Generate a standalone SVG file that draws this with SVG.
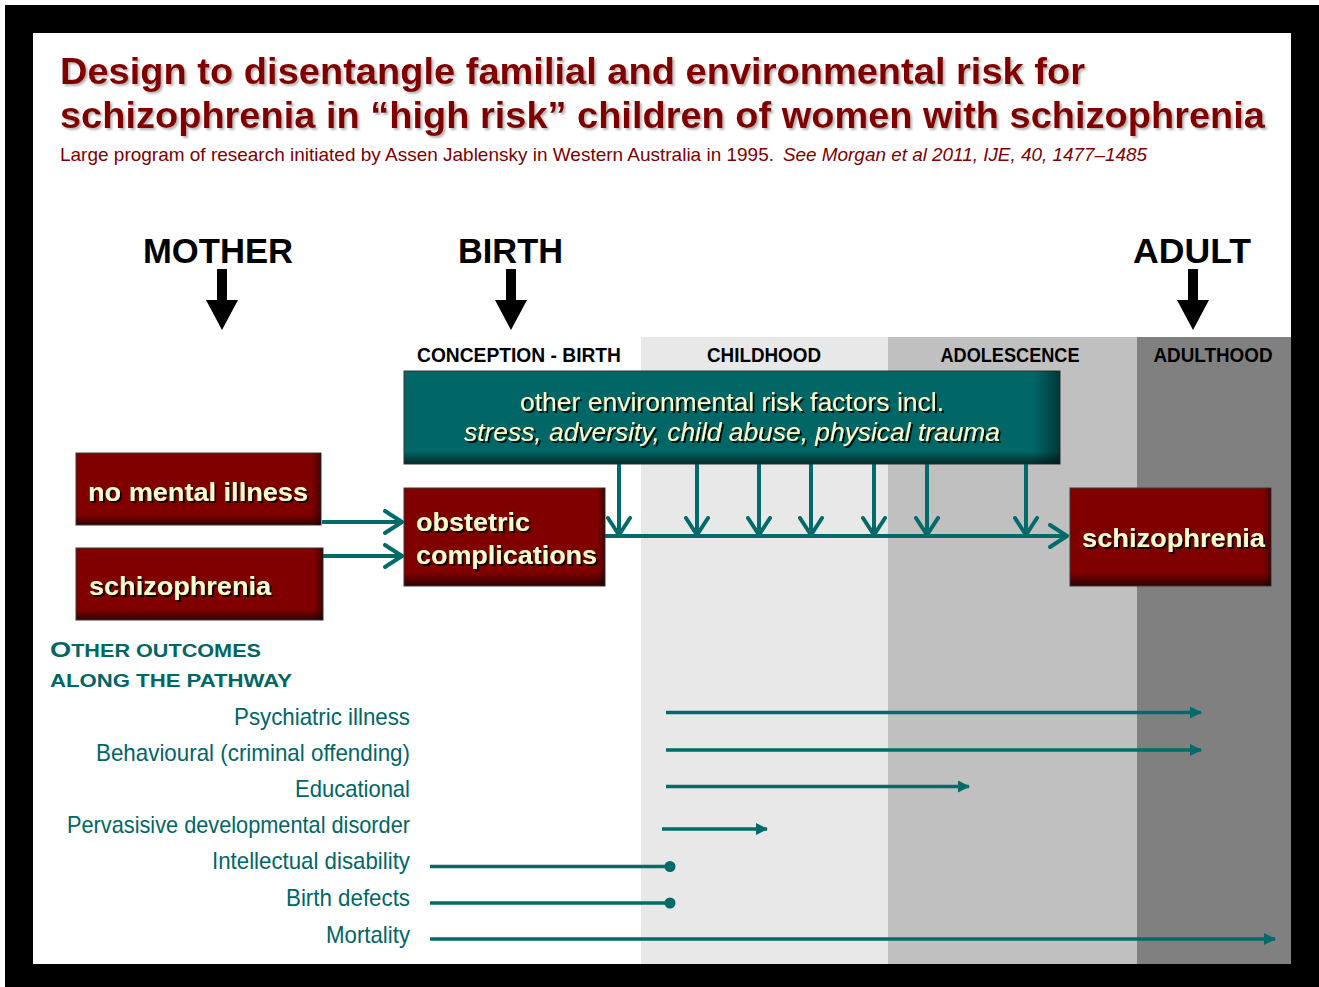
<svg xmlns="http://www.w3.org/2000/svg" width="1319" height="987" viewBox="0 0 1319 987">
<style>
.title{font-family:"Liberation Sans",Arial,sans-serif;font-weight:bold;font-size:37px;fill:#800000}
.sub{font-family:"Liberation Sans Narrow","Liberation Sans",Arial,sans-serif;font-size:19px;fill:#800000}
.stage{font-family:"Liberation Sans",Arial,sans-serif;font-weight:bold;font-size:35px;fill:#000}
.period{font-family:"Liberation Sans Narrow","Liberation Sans",Arial,sans-serif;font-weight:bold;font-size:20px;fill:#000;text-anchor:middle}
.env{font-family:"Liberation Sans Narrow","Liberation Sans",Arial,sans-serif;font-size:25px;fill:#FFFFCC;text-anchor:middle}
.box{font-family:"Liberation Sans",Arial,sans-serif;font-weight:bold;font-size:26px;fill:#FFFFCC}
.oth{font-family:"Liberation Sans",Arial,sans-serif;font-weight:bold;fill:#006666}
.out{font-family:"Liberation Sans Narrow","Liberation Sans",Arial,sans-serif;font-size:24px;fill:#006666;text-anchor:end}
.teal{stroke:#006B68;stroke-width:4;fill:none}
.oline{stroke:#006B68;stroke-width:3.5;fill:none}
.redbox{fill:url(#redGrad);stroke:#3a3a3a;stroke-width:1}
</style>
<defs>
<linearGradient id="redGrad" x1="0" y1="0" x2="0" y2="1">
<stop offset="0" stop-color="#800000"/>
<stop offset="0.86" stop-color="#800000"/>
<stop offset="1" stop-color="#300000"/>
</linearGradient>
<linearGradient id="tealGrad" x1="0" y1="0" x2="0" y2="1">
<stop offset="0" stop-color="#006666"/>
<stop offset="0.86" stop-color="#006666"/>
<stop offset="1" stop-color="#002a2a"/>
</linearGradient>
<linearGradient id="edgeGrad" x1="0" y1="0" x2="1" y2="0">
<stop offset="0.96" stop-color="#000" stop-opacity="0"/>
<stop offset="1" stop-color="#000" stop-opacity="0.45"/>
</linearGradient>
<filter id="ts" x="-5%" y="-20%" width="110%" height="140%">
<feDropShadow dx="2" dy="2" stdDeviation="0.7" flood-color="#000" flood-opacity="0.85"/>
</filter>
<filter id="tts" x="-5%" y="-20%" width="110%" height="140%">
<feDropShadow dx="2" dy="2" stdDeviation="1" flood-color="#777" flood-opacity="0.55"/>
</filter>
<marker id="chev" markerUnits="userSpaceOnUse" viewBox="0 0 24 26" markerWidth="24" markerHeight="26" refX="21" refY="13" orient="auto">
<path d="M3,2 L20,13 L3,24" fill="none" stroke="#006B68" stroke-width="4" stroke-linecap="round" stroke-linejoin="round"/>
</marker>
<marker id="tri" markerUnits="userSpaceOnUse" viewBox="0 0 12 12" markerWidth="12" markerHeight="12" refX="11" refY="6" orient="auto">
<path d="M0,0 L12,6 L0,12 z" fill="#006B68"/>
</marker>
</defs>

<rect x="0" y="0" width="1319" height="987" fill="#fff"/>
<rect x="5" y="5" width="1314" height="982" fill="#000"/>
<rect x="33" y="33" width="1258" height="931" fill="#fff"/>

<g id="bands">
<rect x="641" y="337" width="247" height="627" fill="#E8E8E8"/>
<rect x="888" y="337" width="249" height="627" fill="#C0C0C0"/>
<rect x="1137" y="337" width="154" height="627" fill="#808080"/>
</g>

<g id="title" filter="url(#tts)">
<text class="title" x="60" y="84" textLength="1025" lengthAdjust="spacingAndGlyphs">Design to disentangle familial and environmental risk for</text>
<text class="title" x="60" y="128" textLength="1205" lengthAdjust="spacingAndGlyphs">schizophrenia in “high risk” children of women with schizophrenia</text>
</g>
<g id="subtitle">
<text class="sub" x="60" y="161" textLength="714" lengthAdjust="spacingAndGlyphs">Large program of research initiated  by Assen Jablensky in Western Australia in 1995.</text>
<text class="sub" x="783" y="161" textLength="364" lengthAdjust="spacingAndGlyphs" font-style="italic">See Morgan et al 2011, IJE, 40, 1477–1485</text>
</g>

<g id="stage-mother">
<text class="stage" x="143" y="263" textLength="150" lengthAdjust="spacingAndGlyphs">MOTHER</text>
<path d="M217,269 H227 V300 H238 L222,330 L206,300 H217 Z" fill="#000"/>
</g>
<g id="stage-birth">
<text class="stage" x="458" y="263" textLength="105" lengthAdjust="spacingAndGlyphs">BIRTH</text>
<path d="M506,269 H516 V300 H527 L511,330 L495,300 H506 Z" fill="#000"/>
</g>
<g id="stage-adult">
<text class="stage" x="1133" y="263" textLength="118" lengthAdjust="spacingAndGlyphs">ADULT</text>
<path d="M1188,269 H1198 V300 H1209 L1193,330 L1177,300 H1188 Z" fill="#000"/>
</g>

<g id="periods">
<text class="period" x="519" y="362" textLength="204" lengthAdjust="spacingAndGlyphs">CONCEPTION  - BIRTH</text>
<text class="period" x="764" y="362" textLength="114" lengthAdjust="spacingAndGlyphs">CHILDHOOD</text>
<text class="period" x="1010" y="362" textLength="139" lengthAdjust="spacingAndGlyphs">ADOLESCENCE</text>
<text class="period" x="1213" y="362" textLength="119" lengthAdjust="spacingAndGlyphs">ADULTHOOD</text>
</g>

<g id="connectors">
<line class="teal" x1="322" y1="522" x2="403" y2="522" marker-end="url(#chev)"/>
<line class="teal" x1="323" y1="556" x2="403" y2="556" marker-end="url(#chev)"/>
<line class="teal" x1="605" y1="536" x2="1068" y2="536" marker-end="url(#chev)"/>
<line class="teal" x1="619" y1="464" x2="619" y2="536" marker-end="url(#chev)"/>
<line class="teal" x1="697" y1="464" x2="697" y2="536" marker-end="url(#chev)"/>
<line class="teal" x1="759" y1="464" x2="759" y2="536" marker-end="url(#chev)"/>
<line class="teal" x1="811" y1="464" x2="811" y2="536" marker-end="url(#chev)"/>
<line class="teal" x1="874" y1="464" x2="874" y2="536" marker-end="url(#chev)"/>
<line class="teal" x1="927" y1="464" x2="927" y2="536" marker-end="url(#chev)"/>
<line class="teal" x1="1026" y1="464" x2="1026" y2="536" marker-end="url(#chev)"/>
</g>

<g id="env-risk">
<rect x="404" y="371" width="656" height="93" fill="url(#tealGrad)" stroke="#333" stroke-width="1"/>
<rect x="404" y="371" width="656" height="93" fill="url(#edgeGrad)"/>
<g filter="url(#ts)">
<text class="env" x="732" y="411" textLength="424" lengthAdjust="spacingAndGlyphs">other environmental risk factors incl.</text>
<text class="env" x="732" y="441" textLength="536" lengthAdjust="spacingAndGlyphs" font-style="italic">stress, adversity, child abuse, physical trauma</text>
</g>
</g>

<g id="no-mental-illness">
<rect class="redbox" x="76" y="453" width="245" height="72"/>
<rect x="76" y="453" width="245" height="72" fill="url(#edgeGrad)"/>
<text class="box" x="88" y="501" textLength="220" lengthAdjust="spacingAndGlyphs" filter="url(#ts)">no mental illness</text>
</g>
<g id="mother-schizophrenia">
<rect class="redbox" x="76" y="548" width="247" height="72"/>
<rect x="76" y="548" width="247" height="72" fill="url(#edgeGrad)"/>
<text class="box" x="89" y="595" textLength="182" lengthAdjust="spacingAndGlyphs" filter="url(#ts)">schizophrenia</text>
</g>
<g id="obstetric-complications">
<rect class="redbox" x="404" y="488" width="201" height="98"/>
<rect x="404" y="488" width="201" height="98" fill="url(#edgeGrad)"/>
<g filter="url(#ts)">
<text class="box" x="416" y="531" textLength="114" lengthAdjust="spacingAndGlyphs">obstetric</text>
<text class="box" x="416" y="564" textLength="181" lengthAdjust="spacingAndGlyphs">complications</text>
</g>
</g>
<g id="adult-schizophrenia">
<rect class="redbox" x="1070" y="488" width="201" height="98"/>
<rect x="1070" y="488" width="201" height="98" fill="url(#edgeGrad)"/>
<text class="box" x="1082" y="547" textLength="183" lengthAdjust="spacingAndGlyphs" filter="url(#ts)">schizophrenia</text>
</g>

<g id="other-outcomes-heading">
<text class="oth" x="50" y="657" textLength="211" lengthAdjust="spacingAndGlyphs"><tspan font-size="22">O</tspan><tspan font-size="17.5">THER OUTCOMES</tspan></text>
<text class="oth" x="50" y="687" font-size="19" textLength="242" lengthAdjust="spacingAndGlyphs">ALONG THE PATHWAY</text>
</g>

<g id="outcome-labels">
<text class="out" x="410" y="725" textLength="176" lengthAdjust="spacingAndGlyphs">Psychiatric illness</text>
<text class="out" x="410" y="761" textLength="314" lengthAdjust="spacingAndGlyphs">Behavioural  (criminal offending)</text>
<text class="out" x="410" y="797" textLength="115" lengthAdjust="spacingAndGlyphs">Educational</text>
<text class="out" x="410" y="833" textLength="343" lengthAdjust="spacingAndGlyphs">Pervasisive developmental disorder</text>
<text class="out" x="410" y="869" textLength="198" lengthAdjust="spacingAndGlyphs">Intellectual disability</text>
<text class="out" x="410" y="906" textLength="124" lengthAdjust="spacingAndGlyphs">Birth defects</text>
<text class="out" x="410" y="943" textLength="84" lengthAdjust="spacingAndGlyphs">Mortality</text>
</g>

<g id="outcome-connectors">
<line class="oline" x1="666" y1="712.5" x2="1201" y2="712.5" marker-end="url(#tri)"/>
<line class="oline" x1="666" y1="750" x2="1201" y2="750" marker-end="url(#tri)"/>
<line class="oline" x1="666" y1="786.5" x2="969" y2="786.5" marker-end="url(#tri)"/>
<line class="oline" x1="662" y1="829" x2="767" y2="829" marker-end="url(#tri)"/>
<line class="oline" x1="430" y1="866.5" x2="668" y2="866.5"/>
<circle cx="670" cy="866.5" r="5.5" fill="#006B68"/>
<line class="oline" x1="430" y1="903" x2="668" y2="903"/>
<circle cx="670" cy="903" r="5.5" fill="#006B68"/>
<line class="oline" x1="430" y1="939" x2="1275" y2="939" marker-end="url(#tri)"/>
</g>
</svg>
